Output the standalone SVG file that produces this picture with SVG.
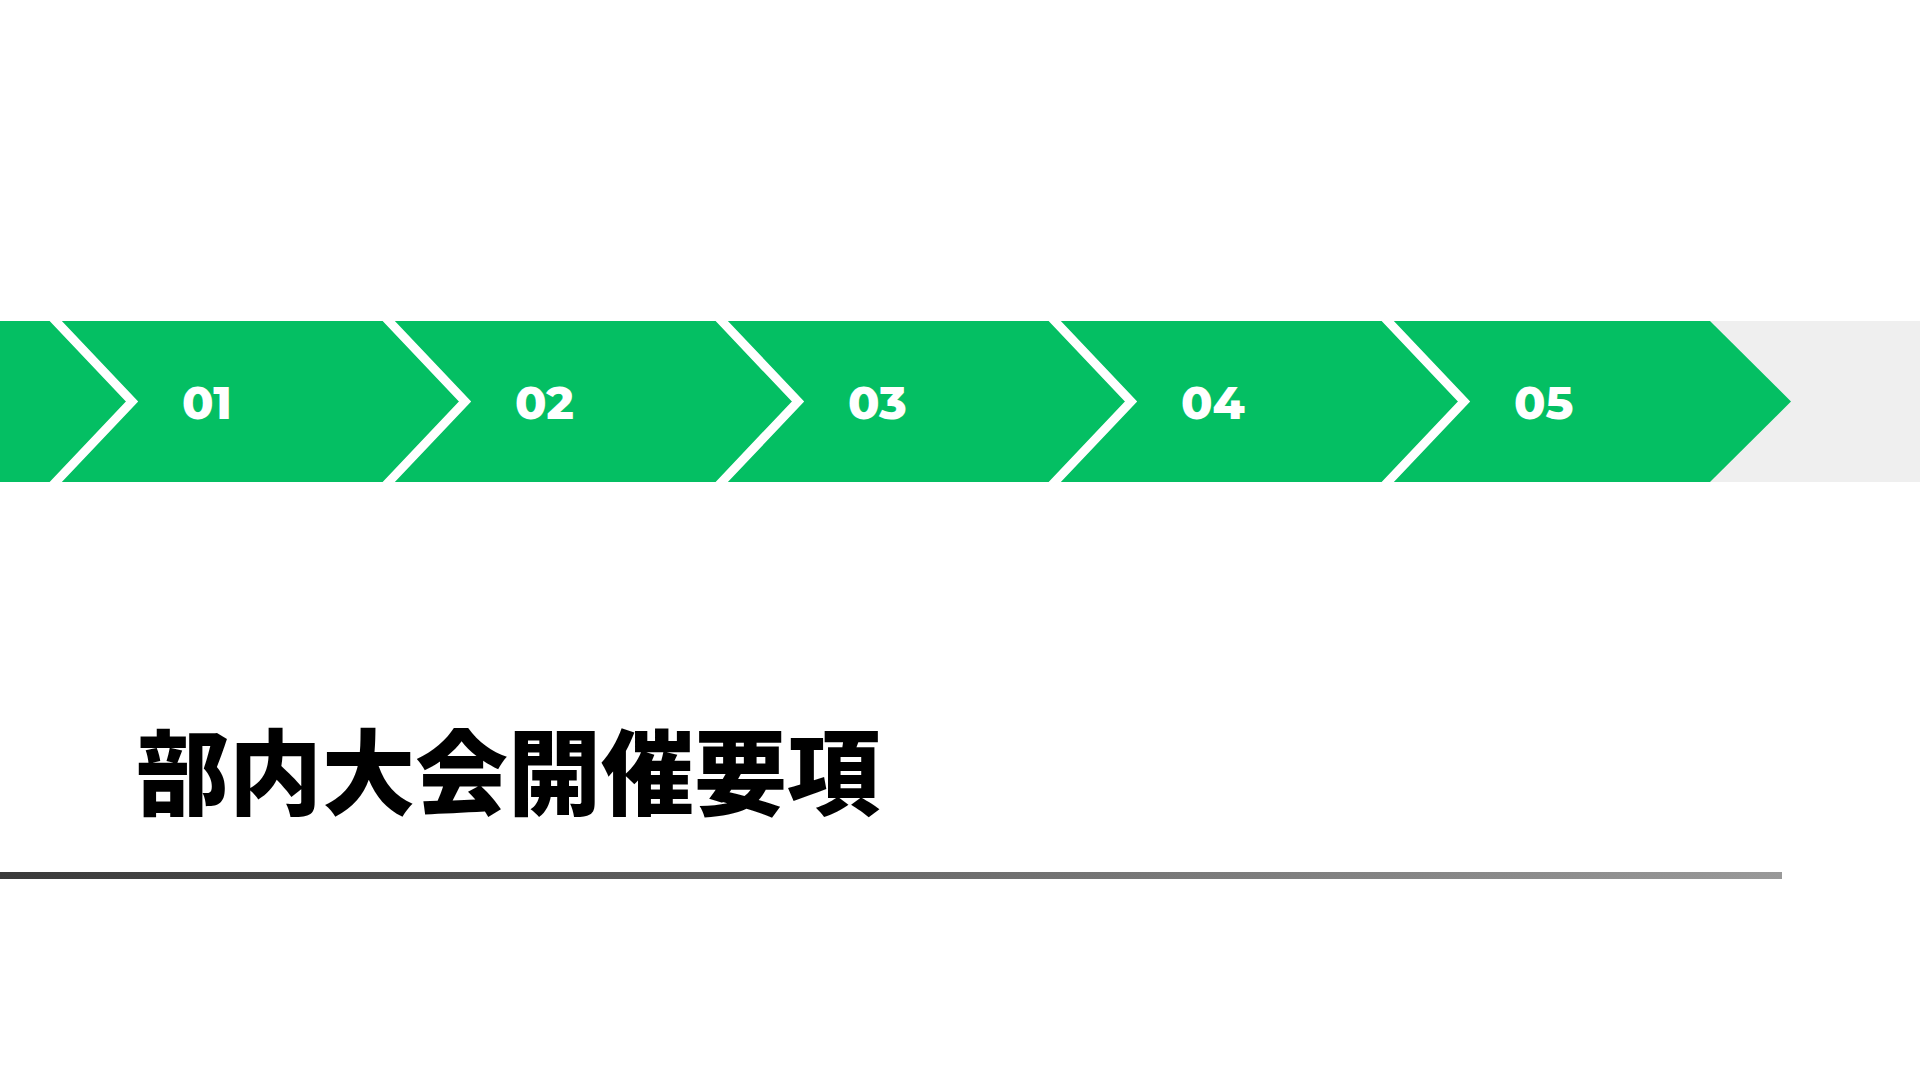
<svg xmlns="http://www.w3.org/2000/svg" width="1920" height="1080" viewBox="0 0 1920 1080">
<defs>
<linearGradient id="lg" x1="0" x2="1" y1="0" y2="0"><stop offset="0" stop-color="#3a3a3a"/><stop offset="1" stop-color="#999"/></linearGradient>
<style>
.sep{fill:none;stroke:#fff;stroke-width:9}
.num{font-family:Montserrat,Inter,"Open Sans",sans-serif;font-weight:800;font-size:46px;fill:#fff;dominant-baseline:central}
.title{font-family:"Noto Sans CJK JP",sans-serif;font-weight:900;font-size:93px;fill:#000}
</style>
</defs>
<rect width="1920" height="1080" fill="#fff"/>
<rect x="1700" y="321" width="220" height="161" fill="#efefef"/>
<polygon points="0,321 1710,321 1791,401.5 1710,482 0,482" fill="#04bf63"/>
<g id="connectors">
<polyline class="sep" points="51,316 132,401.5 51,487"/>
<polyline class="sep" points="384,316 465,401.5 384,487"/>
<polyline class="sep" points="717,316 798,401.5 717,487"/>
<polyline class="sep" points="1050,316 1131,401.5 1050,487"/>
<polyline class="sep" points="1383,316 1464,401.5 1383,487"/>
</g>
<g id="n1"><text class="num" x="182" y="402">01</text></g>
<g id="n2"><text class="num" x="515" y="402">02</text></g>
<g id="n3"><text class="num" x="848" y="402">03</text></g>
<g id="n4"><text class="num" x="1181" y="402">04</text></g>
<g id="n5"><text class="num" x="1514" y="402">05</text></g>
<g id="title"><text class="title" x="136" y="808">部内大会開催要項</text></g>
<rect x="0" y="872" width="1782" height="7" fill="url(#lg)"/>
</svg>
